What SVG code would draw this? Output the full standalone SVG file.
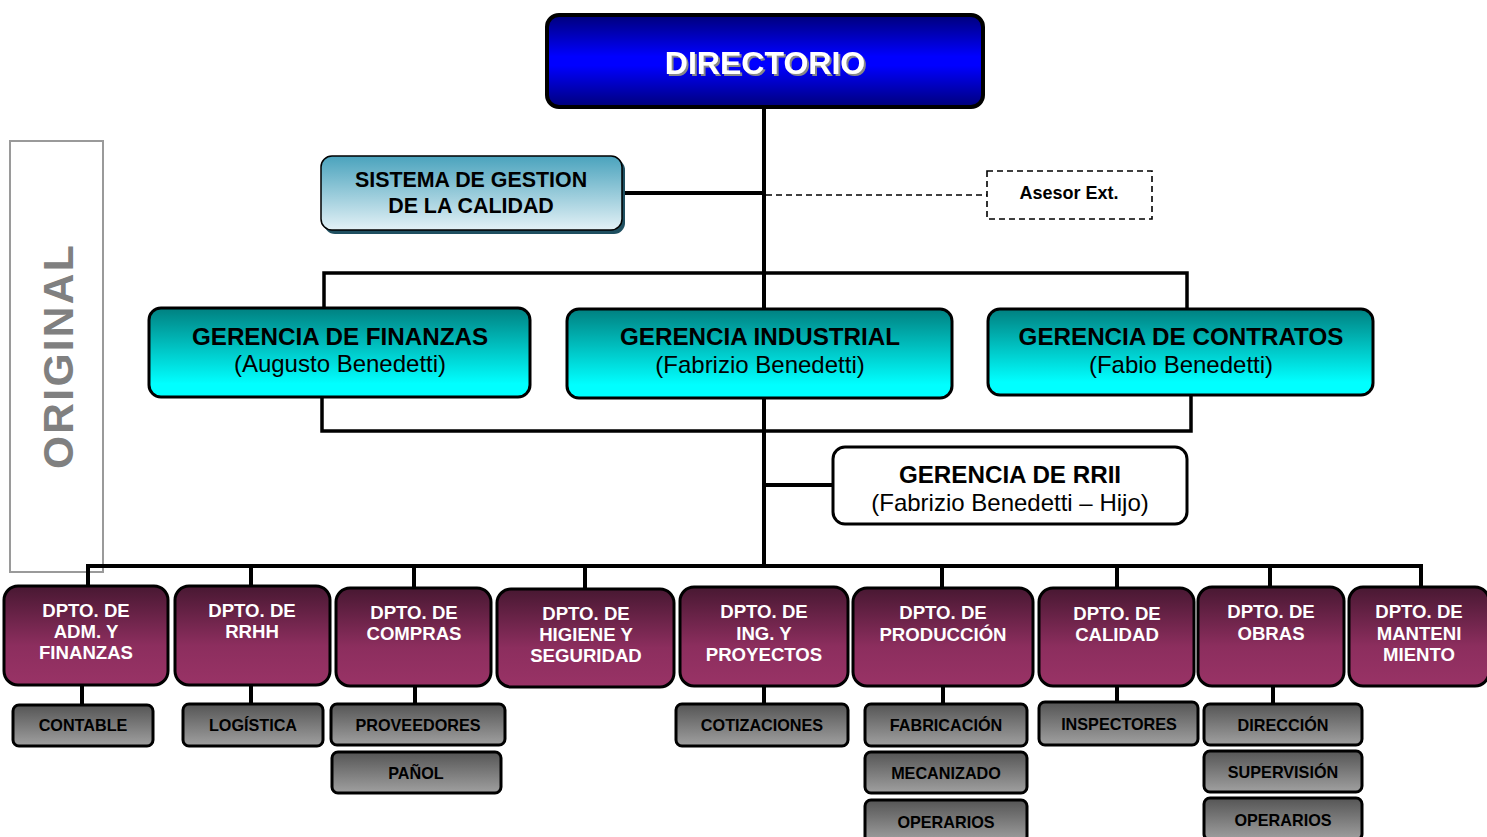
<svg xmlns="http://www.w3.org/2000/svg" width="1487" height="837" viewBox="0 0 1487 837">
<defs>
<linearGradient id="gBlue" x1="0" y1="0" x2="0" y2="1">
<stop offset="0" stop-color="#00007a"/><stop offset="0.45" stop-color="#0000ff"/><stop offset="0.55" stop-color="#0000ff"/><stop offset="1" stop-color="#00007a"/>
</linearGradient>
<linearGradient id="gSgc" x1="0" y1="0" x2="0" y2="1">
<stop offset="0" stop-color="#4aa3bd"/><stop offset="1" stop-color="#e3f1f6"/>
</linearGradient>
<linearGradient id="gCyan" x1="0" y1="0" x2="0" y2="1">
<stop offset="0" stop-color="#008080"/><stop offset="0.85" stop-color="#00ffff"/><stop offset="1" stop-color="#00ffff"/>
</linearGradient>
<linearGradient id="gPlum" x1="0" y1="0" x2="0" y2="1">
<stop offset="0" stop-color="#481832"/><stop offset="0.6" stop-color="#8c2e5e"/><stop offset="1" stop-color="#993366"/>
</linearGradient>
<linearGradient id="gGray" x1="0" y1="0" x2="0" y2="1">
<stop offset="0" stop-color="#555555"/><stop offset="1" stop-color="#a0a0a0"/>
</linearGradient>
<filter id="shadow" x="-10%" y="-30%" width="120%" height="160%">
<feDropShadow dx="2" dy="2" stdDeviation="0.6" flood-color="#888888" flood-opacity="1"/>
</filter>
</defs>
<style>
text{font-family:"Liberation Sans",Arial,sans-serif;text-anchor:middle}
.b{font-weight:bold}
.ln{stroke:#000;stroke-width:4;fill:none}
.ln3{stroke:#000;stroke-width:3.5;fill:none}
.dash{stroke:#000;stroke-width:1.6;fill:none;stroke-dasharray:6,4}
.dept rect{fill:url(#gPlum);stroke:#000;stroke-width:3}
.dept text{fill:#fff;font-weight:bold;font-size:18.6px}
.sub rect{fill:url(#gGray);stroke:#000;stroke-width:3}
.sub text{fill:#000;font-weight:bold;font-size:16.2px}
.ger rect{fill:url(#gCyan);stroke:#000;stroke-width:3}
.ger .t1{font-weight:bold;font-size:24.2px;fill:#000}
.ger .t2{font-size:24px;fill:#000}
</style>

<g id="original">
<rect x="10" y="141" width="93" height="431" fill="none" stroke="#9a9a9a" stroke-width="2"/>
<text x="0" y="0" transform="translate(73,356) rotate(-90)" class="b" font-size="42.5" fill="#808080" letter-spacing="2.3">ORIGINAL</text>
</g>

<g id="connectors">
<line class="ln" x1="764" y1="107" x2="764" y2="568"/>
<line class="ln" x1="622" y1="193" x2="764" y2="193"/>
<line class="dash" x1="766" y1="195" x2="987" y2="195"/>
<polyline class="ln3" points="324,308 324,273 1187,273 1187,308"/>
<polyline class="ln3" points="322,397 322,431 1191,431 1191,395"/>
<line class="ln" x1="764" y1="485" x2="833" y2="485"/>
<polyline class="ln" points="88,588 88,566 1421,566 1421,588"/>
<line class="ln" x1="251" y1="566" x2="251" y2="587"/>
<line class="ln" x1="414" y1="566" x2="414" y2="589"/>
<line class="ln" x1="585" y1="566" x2="585" y2="590"/>
<line class="ln" x1="942" y1="566" x2="942" y2="589"/>
<line class="ln" x1="1117" y1="566" x2="1117" y2="589"/>
<line class="ln" x1="1270" y1="566" x2="1270" y2="588"/>
<line class="ln" x1="82" y1="685" x2="82" y2="705"/>
<line class="ln" x1="251" y1="685" x2="251" y2="704"/>
<line class="ln" x1="415" y1="686" x2="415" y2="704"/>
<line class="ln" x1="764" y1="686" x2="764" y2="704"/>
<line class="ln" x1="943" y1="686" x2="943" y2="704"/>
<line class="ln" x1="1117" y1="686" x2="1117" y2="702"/>
<line class="ln" x1="1273" y1="686" x2="1273" y2="704"/>
</g>

<g id="directorio">
<rect x="547" y="15" width="436" height="92" rx="12" fill="url(#gBlue)" stroke="#000" stroke-width="4"/>
<text x="765" y="74" class="b" font-size="32" fill="#fff" filter="url(#shadow)">DIRECTORIO</text>
</g>

<g id="sgc">
<rect x="324" y="159" width="301" height="75" rx="11" fill="#1f4f60"/>
<rect x="321" y="156" width="301" height="74" rx="11" fill="url(#gSgc)" stroke="#000" stroke-width="1.5"/>
<text x="471" y="187" class="b" font-size="21.4" fill="#000">SISTEMA DE GESTION</text>
<text x="471" y="213" class="b" font-size="21.4" fill="#000">DE LA CALIDAD</text>
</g>

<g id="asesor">
<rect x="987" y="171" width="165" height="48" fill="#fff" stroke="#000" stroke-width="1.6" stroke-dasharray="6,4"/>
<text x="1069" y="199" class="b" font-size="18" fill="#000">Asesor Ext.</text>
</g>

<g id="ger-finanzas" class="ger">
<rect x="149" y="308" width="381" height="89" rx="12"/>
<text x="340" y="345" class="t1">GERENCIA DE FINANZAS</text>
<text x="340" y="372" class="t2">(Augusto Benedetti)</text>
</g>
<g id="ger-industrial" class="ger">
<rect x="567" y="309" width="385" height="89" rx="12"/>
<text x="760" y="345" class="t1">GERENCIA INDUSTRIAL</text>
<text x="760" y="373" class="t2">(Fabrizio Benedetti)</text>
</g>
<g id="ger-contratos" class="ger">
<rect x="988" y="309" width="385" height="86" rx="12"/>
<text x="1181" y="345" class="t1">GERENCIA DE CONTRATOS</text>
<text x="1181" y="373" class="t2">(Fabio Benedetti)</text>
</g>

<g id="ger-rrii">
<rect x="833" y="447" width="354" height="77" rx="12" fill="#fff" stroke="#000" stroke-width="3"/>
<text x="1010" y="483" class="b" font-size="24.2" fill="#000">GERENCIA DE RRII</text>
<text x="1010" y="511" font-size="24" fill="#000">(Fabrizio Benedetti – Hijo)</text>
</g>

<g id="dpto-adm" class="dept">
<rect x="4" y="586" width="164" height="99" rx="14"/>
<text x="86" y="617">DPTO. DE</text><text x="86" y="638">ADM. Y</text><text x="86" y="659">FINANZAS</text>
</g>
<g id="dpto-rrhh" class="dept">
<rect x="175" y="586" width="155" height="99" rx="14"/>
<text x="252" y="617">DPTO. DE</text><text x="252" y="638">RRHH</text>
</g>
<g id="dpto-compras" class="dept">
<rect x="336" y="588" width="155" height="98" rx="14"/>
<text x="414" y="619">DPTO. DE</text><text x="414" y="640">COMPRAS</text>
</g>
<g id="dpto-higiene" class="dept">
<rect x="497" y="589" width="177" height="98" rx="14"/>
<text x="586" y="620">DPTO. DE</text><text x="586" y="641">HIGIENE Y</text><text x="586" y="662">SEGURIDAD</text>
</g>
<g id="dpto-ing" class="dept">
<rect x="680" y="587" width="168" height="99" rx="14"/>
<text x="764" y="618">DPTO. DE</text><text x="764" y="640">ING. Y</text><text x="764" y="661">PROYECTOS</text>
</g>
<g id="dpto-produccion" class="dept">
<rect x="853" y="588" width="180" height="98" rx="14"/>
<text x="943" y="619">DPTO. DE</text><text x="943" y="641">PRODUCCIÓN</text>
</g>
<g id="dpto-calidad" class="dept">
<rect x="1039" y="588" width="155" height="98" rx="14"/>
<text x="1117" y="620">DPTO. DE</text><text x="1117" y="641">CALIDAD</text>
</g>
<g id="dpto-obras" class="dept">
<rect x="1198" y="587" width="146" height="99" rx="14"/>
<text x="1271" y="618">DPTO. DE</text><text x="1271" y="640">OBRAS</text>
</g>
<g id="dpto-mantenimiento" class="dept">
<rect x="1349" y="587" width="140" height="99" rx="14"/>
<text x="1419" y="618">DPTO. DE</text><text x="1419" y="640">MANTENI</text><text x="1419" y="661">MIENTO</text>
</g>

<g id="sub-contable" class="sub"><rect x="13" y="705" width="140" height="41" rx="6"/><text x="83" y="731">CONTABLE</text></g>
<g id="sub-logistica" class="sub"><rect x="183" y="704" width="140" height="42" rx="6"/><text x="253" y="731">LOGÍSTICA</text></g>
<g id="sub-proveedores" class="sub"><rect x="331" y="704" width="174" height="41" rx="6"/><text x="418" y="731">PROVEEDORES</text></g>
<g id="sub-panol" class="sub"><rect x="332" y="752" width="169" height="41" rx="6"/><text x="416" y="779">PAÑOL</text></g>
<g id="sub-cotizaciones" class="sub"><rect x="676" y="704" width="172" height="42" rx="6"/><text x="762" y="731">COTIZACIONES</text></g>
<g id="sub-fabricacion" class="sub"><rect x="865" y="704" width="162" height="42" rx="6"/><text x="946" y="731">FABRICACIÓN</text></g>
<g id="sub-mecanizado" class="sub"><rect x="865" y="752" width="162" height="41" rx="6"/><text x="946" y="779">MECANIZADO</text></g>
<g id="sub-operarios-prod" class="sub"><rect x="865" y="800" width="162" height="42" rx="6"/><text x="946" y="828">OPERARIOS</text></g>
<g id="sub-inspectores" class="sub"><rect x="1039" y="702" width="159" height="43" rx="6"/><text x="1119" y="730">INSPECTORES</text></g>
<g id="sub-direccion" class="sub"><rect x="1204" y="704" width="158" height="41" rx="6"/><text x="1283" y="731">DIRECCIÓN</text></g>
<g id="sub-supervision" class="sub"><rect x="1204" y="751" width="158" height="41" rx="6"/><text x="1283" y="778">SUPERVISIÓN</text></g>
<g id="sub-operarios-obras" class="sub"><rect x="1204" y="798" width="158" height="42" rx="6"/><text x="1283" y="826">OPERARIOS</text></g>
</svg>
